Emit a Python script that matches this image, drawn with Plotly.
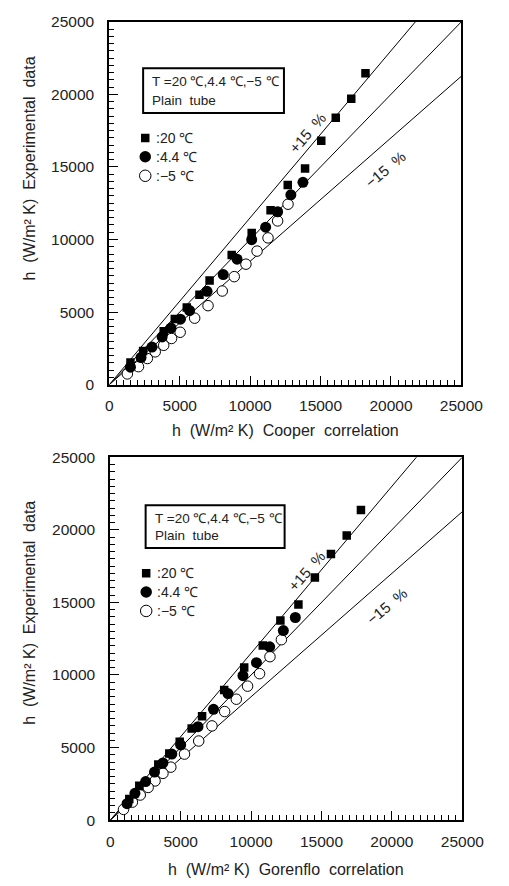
import plotly.graph_objects as go

# ---------------- data ----------------
# Top panel: Cooper correlation
cooper_20_x = [18190, 17180, 16080, 15050, 13900, 12670, 11450, 10110, 8690, 7120, 6400, 5500, 4650, 3860, 2400, 1500]
cooper_20_y = [21450, 19700, 18390, 16810, 14890, 13760, 12020, 10450, 8930, 7170, 6200, 5320, 4530, 3680, 2320, 1530]
cooper_44_x = [13750, 12890, 11950, 11100, 10110, 9070, 8090, 6940, 5700, 5050, 4380, 3750, 3030, 2250, 1500]
cooper_44_y = [13940, 13080, 11910, 10850, 9990, 8640, 7580, 6430, 5100, 4510, 3900, 3290, 2590, 1870, 1200]
cooper_m5_x = [12690, 11950, 11270, 10490, 9700, 8870, 8020, 7010, 6060, 5030, 4420, 3860, 3260, 2700, 2070, 1280]
cooper_m5_y = [12430, 11280, 10110, 9200, 8300, 7440, 6450, 5440, 4580, 3610, 3180, 2710, 2260, 1800, 1240, 740]

# Bottom panel: Gorenflo correlation
goren_20_x = [17800, 16790, 15670, 14530, 13360, 12080, 10830, 9510, 8090, 6520, 5780, 4930, 4190, 3410, 2060, 1350]
goren_20_y = [21370, 19610, 18330, 16710, 14860, 13760, 12030, 10520, 8960, 7160, 6310, 5400, 4590, 3830, 2360, 1450]
goren_44_x = [13140, 12290, 11320, 10380, 9420, 8360, 7330, 6230, 5000, 4370, 3740, 3140, 2510, 1750, 1190]
goren_44_y = [13960, 13060, 11940, 10850, 9950, 8720, 7630, 6440, 5180, 4550, 3940, 3310, 2660, 1850, 1130]
goren_m5_x = [12150, 11340, 10600, 9750, 8950, 8120, 7220, 6280, 5270, 4300, 3740, 3180, 2690, 2130, 1570, 940]
goren_m5_y = [12430, 11260, 10090, 9230, 8330, 7480, 6490, 5450, 4550, 3650, 3220, 2700, 2250, 1730, 1240, 740]

band_factors = [1.15, 1.0, 0.85]
axis_range = [0, 25000]
tick_vals = [0, 5000, 10000, 15000, 20000, 25000]
tick_text = ["0", "5000", "10000", "15000", "20000", "25000"]

series_labels = [":20 ℃", ":4.4 ℃", ":−5 ℃"]
box_line1 = "T =20 ℃,4.4 ℃,−5 ℃"
box_line2 = "Plain  tube"
x_titles = ["h  (W/m² K)  Cooper  correlation", "h  (W/m² K)  Gorenflo  correlation"]
y_title = "h  (W/m² K)  Experimental  data"

# ---------------- figure ----------------
FONT = "Liberation Sans, Arial, sans-serif"
TXT = "#222222"
W, H = 509, 886

fig = go.Figure()

panels = [
    dict(xa="x", ya="y",
         xdom=[111 / W, 482 / W], ydom=[(H - 383) / H, (H - 13) / H],
         s20=(cooper_20_x, cooper_20_y), s44=(cooper_44_x, cooper_44_y), sm5=(cooper_m5_x, cooper_m5_y),
         box=(2400, 12400, 18720, 21790), leg_y=[16990, 15700, 14390],
         plus=(14100, 17350), minus=(19600, 14800),
         xtitle_y=(H - 430) / H, ytitle_y=(H - 163) / H, xtitle=x_titles[0]),
    dict(xa="x2", ya="y2",
         xdom=[112 / W, 483 / W], ydom=[(H - 827) / H, (H - 457) / H],
         s20=(goren_20_x, goren_20_y), s44=(goren_44_x, goren_44_y), sm5=(goren_m5_x, goren_m5_y),
         box=(2510, 12380, 18740, 21690), leg_y=[17000, 15720, 14410],
         plus=(13900, 17150), minus=(19600, 14750),
         xtitle_y=(H - 877) / H, ytitle_y=(H - 616) / H, xtitle=x_titles[1]),
]

for i, p in enumerate(panels):
    xa, ya = p["xa"], p["ya"]
    # reference lines
    for f in band_factors:
        fig.add_trace(go.Scatter(x=axis_range, y=[f * v for v in axis_range], mode="lines",
                                 line=dict(color="black", width=1), xaxis=xa, yaxis=ya,
                                 showlegend=False, hoverinfo="skip", cliponaxis=True))
    # data
    fig.add_trace(go.Scatter(x=p["sm5"][0], y=p["sm5"][1], mode="markers",
                             marker=dict(symbol="circle", size=10.5, color="white",
                                         line=dict(color="black", width=1)),
                             xaxis=xa, yaxis=ya, showlegend=False))
    fig.add_trace(go.Scatter(x=p["s44"][0], y=p["s44"][1], mode="markers",
                             marker=dict(symbol="circle", size=11, color="black",
                                         line=dict(color="black", width=0)),
                             xaxis=xa, yaxis=ya, showlegend=False))
    fig.add_trace(go.Scatter(x=p["s20"][0], y=p["s20"][1], mode="markers",
                             marker=dict(symbol="square", size=8.5, color="black",
                                         line=dict(color="black", width=0)),
                             xaxis=xa, yaxis=ya, showlegend=False))
    # legend markers
    lx = 2550
    fig.add_trace(go.Scatter(x=[lx], y=[p["leg_y"][0]], mode="markers",
                             marker=dict(symbol="square", size=8.5, color="black"),
                             xaxis=xa, yaxis=ya, showlegend=False))
    fig.add_trace(go.Scatter(x=[lx], y=[p["leg_y"][1]], mode="markers",
                             marker=dict(symbol="circle", size=11.5, color="black"),
                             xaxis=xa, yaxis=ya, showlegend=False))
    fig.add_trace(go.Scatter(x=[lx], y=[p["leg_y"][2]], mode="markers",
                             marker=dict(symbol="circle", size=11.5, color="white",
                                         line=dict(color="black", width=1)),
                             xaxis=xa, yaxis=ya, showlegend=False))
    for lab, yy in zip(series_labels, p["leg_y"]):
        fig.add_annotation(x=3150, y=yy, xref=xa, yref=ya, text=lab, showarrow=False,
                           xanchor="left", yanchor="middle",
                           font=dict(family=FONT, size=14, color=TXT))
    # info box
    bx0, bx1, by0, by1 = p["box"]
    fig.add_shape(type="rect", x0=bx0, x1=bx1, y0=by0, y1=by1, xref=xa, yref=ya,
                  line=dict(color="black", width=2), fillcolor="white")
    fig.add_annotation(x=bx0 + 500, y=by1 - 880, xref=xa, yref=ya, text=box_line1,
                       showarrow=False, xanchor="left", yanchor="middle",
                       font=dict(family=FONT, size=13.5, color=TXT))
    fig.add_annotation(x=bx0 + 500, y=by0 + 850, xref=xa, yref=ya, text=box_line2,
                       showarrow=False, xanchor="left", yanchor="middle",
                       font=dict(family=FONT, size=13.5, color=TXT))
    # band labels
    fig.add_annotation(x=p["plus"][0], y=p["plus"][1], xref=xa, yref=ya, text="+15  %",
                       showarrow=False, textangle=-49,
                       font=dict(family=FONT, size=15, color=TXT))
    fig.add_annotation(x=p["minus"][0], y=p["minus"][1], xref=xa, yref=ya, text="−15  %",
                       showarrow=False, textangle=-40,
                       font=dict(family=FONT, size=15, color=TXT))
    # axis titles
    fig.add_annotation(x=(p["xdom"][0] + p["xdom"][1]) / 2, y=p["xtitle_y"], xref="paper", yref="paper",
                       text=p["xtitle"], showarrow=False, xanchor="center", yanchor="middle",
                       font=dict(family=FONT, size=16, color=TXT))
    fig.add_annotation(x=27 / W, y=p["ytitle_y"], xref="paper", yref="paper",
                       text=y_title, showarrow=False, textangle=-90, xanchor="center", yanchor="middle",
                       font=dict(family=FONT, size=16, color=TXT))

axis_common = dict(range=axis_range, showgrid=False, zeroline=False,
                   showline=True, linecolor="black", linewidth=2, mirror=True,
                   ticks="inside", ticklen=9, tickwidth=1, tickcolor="black",
                   tickvals=tick_vals, ticktext=tick_text,
                   tickfont=dict(family=FONT, size=15.5, color=TXT),
                   minor=dict(ticks="inside", dtick=500, ticklen=5, tickwidth=1, tickcolor="black"))

fig.update_layout(
    width=W, height=H, margin=dict(l=0, r=0, t=0, b=0),
    paper_bgcolor="white", plot_bgcolor="white", showlegend=False,
    xaxis=dict(domain=panels[0]["xdom"], anchor="y", ticklabelstandoff=6, **axis_common),
    yaxis=dict(domain=panels[0]["ydom"], anchor="x", ticklabelstandoff=10, **axis_common),
    xaxis2=dict(domain=panels[1]["xdom"], anchor="y2", ticklabelstandoff=6, **axis_common),
    yaxis2=dict(domain=panels[1]["ydom"], anchor="x2", ticklabelstandoff=10, **axis_common),
)

fig.write_html("out.html")
